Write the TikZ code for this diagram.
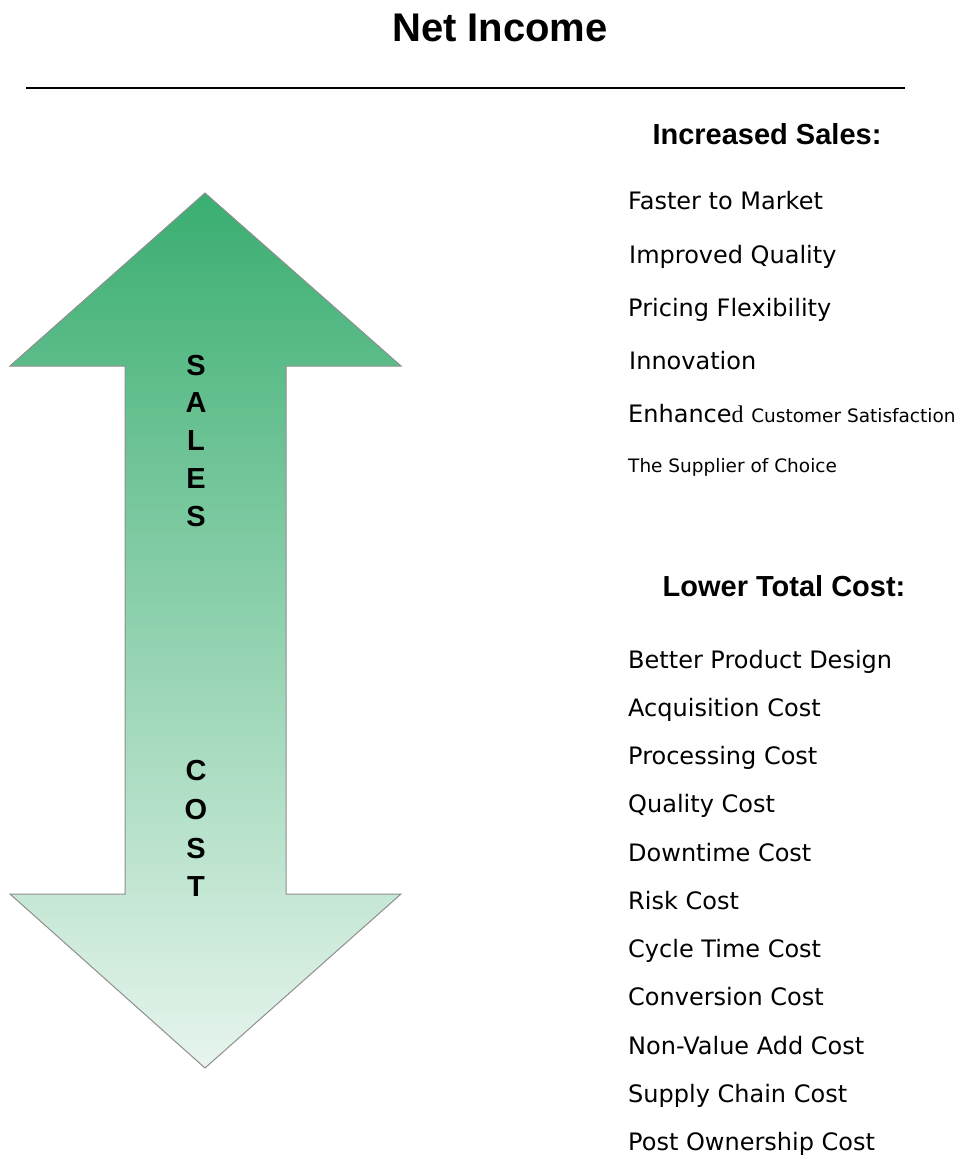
\documentclass[tikz,border=0pt]{standalone}
\usepackage{fontspec}
\setmainfont{Liberation Sans}
\newfontfamily\itemfont{DejaVu Sans}
\newfontfamily\serifpart{Liberation Serif}
\definecolor{arrowtop}{HTML}{3AAE71}
\definecolor{arrowmid}{HTML}{A3D4B6}
\definecolor{arrowbot}{HTML}{E7F5ED}
\definecolor{arrowedge}{HTML}{8E8E8E}
\tikzset{
  itemtext/.style={anchor=base west, inner sep=0pt, font=\itemfont\fontsize{24}{28}\selectfont},
  smalltext/.style={anchor=base west, inner sep=0pt, font=\itemfont\fontsize{18.5}{22}\selectfont},
  headtext/.style={inner sep=0pt, font=\bfseries\fontsize{29}{33}\selectfont},
  vertletter/.style={inner sep=0pt, font=\bfseries\fontsize{29}{33}\selectfont},
}
\begin{document}
\begin{tikzpicture}[x=1pt,y=-1pt]
\useasboundingbox (0,0) rectangle (957,1158);
% title
\node[inner sep=0pt, font=\bfseries\fontsize{40}{44}\selectfont] (title) at (500,28) {Net Income};
\coordinate (ruleL) at (26,88);
\coordinate (ruleR) at (905,88);
\draw[line width=2.2pt] (ruleL) -- (ruleR);
% double arrow
\path[draw=arrowedge, line width=1pt, top color=arrowtop, middle color=arrowmid, bottom color=arrowbot, shading angle=0]
  (205,193) -- (401,366) -- (286,366) -- (286,894) -- (401,894) -- (205,1068)
  -- (10,894) -- (125,894) -- (125,366) -- (10,366) -- cycle;
% vertical words
\node[vertletter] (s1) at (196,366) {S};
\node[vertletter] (s2) at (196,403) {A};
\node[vertletter] (s3) at (196,441) {L};
\node[vertletter] (s4) at (196,479) {E};
\node[vertletter] (s5) at (196,517) {S};
\node[vertletter] (c1) at (196,771) {C};
\node[vertletter] (c2) at (196,810) {O};
\node[vertletter] (c3) at (196,849) {S};
\node[vertletter] (c4) at (196,887) {T};
% headings
\node[headtext] (hs) at (767,134) {Increased Sales:};
\node[headtext] (hc) at (784,586) {Lower Total Cost:};
% sales items
\node[itemtext] (i1) at (628,210) {Faster to Market};
\node[itemtext] (i2) at (629,263) {Improved Quality};
\node[itemtext] (i3) at (628,316) {Pricing Flexibility};
\node[itemtext] (i4) at (629,369) {Innovation};
\node[itemtext] (i5) at (628,422) {Enhance{\serifpart d} {\fontsize{18.5}{22}\selectfont Customer Satisfaction}};
\node[smalltext] (i6) at (628,472) {The Supplier of Choice};
% cost items
\node[itemtext] (k1) at (628,668) {Better Product Design};
\node[itemtext] (k2) at (628,716) {Acquisition Cost};
\node[itemtext] (k3) at (628,764) {Processing Cost};
\node[itemtext] (k4) at (628,812) {Quality Cost};
\node[itemtext] (k5) at (628,861) {Downtime Cost};
\node[itemtext] (k6) at (628,909) {Risk Cost};
\node[itemtext] (k7) at (628,957) {Cycle Time Cost};
\node[itemtext] (k8) at (628,1005) {Conversion Cost};
\node[itemtext] (k9) at (628,1054) {Non-Value Add Cost};
\node[itemtext] (k10) at (628,1102) {Supply Chain Cost};
\node[itemtext] (k11) at (628,1150) {Post Ownership Cost};
\end{tikzpicture}
\end{document}
